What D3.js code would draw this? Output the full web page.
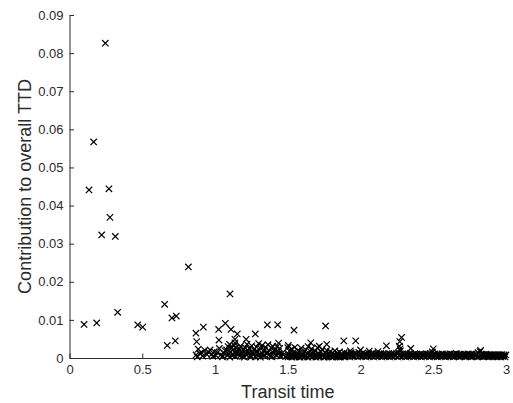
<!DOCTYPE html>
<html>
<head>
<meta charset="utf-8">
<script src="https://cdn.jsdelivr.net/npm/d3@7"></script>
<style>
    body { margin: 0; background: #fff; }
    text { font-family: "Liberation Sans", Arial, sans-serif; }
</style>
</head>
<body>
<script>
// tick values and labels
var xTicks = [0, 0.5, 1, 1.5, 2, 2.5, 3]
var xTickLabels = ["0", "0.5", "1", "1.5", "2", "2.5", "3"]
var yTicks = [0, 0.01, 0.02, 0.03, 0.04, 0.05, 0.06, 0.07, 0.08, 0.09]
var yTickLabels = ["0", "0.01", "0.02", "0.03", "0.04", "0.05", "0.06", "0.07", "0.08", "0.09"]

// [transit time, contribution] - isolated points
var outliers = [
    [0.100, 0.0088], [0.134, 0.0441], [0.166, 0.0567], [0.187, 0.0092], [0.221, 0.0323],
    [0.246, 0.0826], [0.271, 0.0444], [0.278, 0.0369], [0.315, 0.0319], [0.331, 0.0120],
    [0.469, 0.0087], [0.503, 0.0081], [0.654, 0.0141], [0.672, 0.0033], [0.704, 0.0105],
    [0.727, 0.0045], [0.734, 0.0110], [0.817, 0.0239], [0.869, 0.0065], [0.874, 0.0043],
    [0.920, 0.0081], [1.025, 0.0075], [1.027, 0.0047], [1.071, 0.0091], [1.103, 0.0168],
    [1.110, 0.0075], [1.137, 0.0049], [1.137, 0.0040], [1.153, 0.0063], [1.214, 0.0049],
    [1.277, 0.0063], [1.360, 0.0087], [1.431, 0.0087], [1.437, 0.0039], [1.504, 0.0033],
    [1.543, 0.0073], [1.658, 0.0040], [1.717, 0.0031], [1.760, 0.0084], [1.768, 0.0036],
    [1.885, 0.0045], [1.967, 0.0045], [2.178, 0.0032], [2.270, 0.0043], [2.267, 0.0031],
    [2.282, 0.0054], [2.272, 0.0024], [2.345, 0.0025], [2.500, 0.0024], [2.825, 0.0020]
]

// cluster between ~0.87 and ~1.9
var cluster = [
    [0.870, 0.0008], [0.878, 0.0003], [0.885, 0.0023], [0.895, 0.0012], [0.908, 0.0014],
    [0.915, 0.0005], [0.930, 0.0020], [0.945, 0.0009], [0.955, 0.0016], [0.966, 0.0021],
    [0.977, 0.0010], [0.985, 0.0004], [0.995, 0.0017], [1.005, 0.0007], [1.016, 0.0014],
    [1.030, 0.0025], [1.040, 0.0008], [1.050, 0.0003], [1.062, 0.0012], [1.070, 0.0019],
    [1.080, 0.0021], [1.090, 0.0030], [1.095, 0.0010], [1.100, 0.0036], [1.105, 0.0016],
    [1.112, 0.0026], [1.118, 0.0006], [1.125, 0.0022], [1.132, 0.0033], [1.140, 0.0013],
    [1.146, 0.0027], [1.152, 0.0019], [1.160, 0.0009], [1.168, 0.0024], [1.175, 0.0031],
    [1.182, 0.0015], [1.190, 0.0004], [1.196, 0.0021], [1.205, 0.0028], [1.212, 0.0011],
    [1.220, 0.0036], [1.228, 0.0018], [1.236, 0.0025], [1.244, 0.0007], [1.252, 0.0032],
    [1.260, 0.0014], [1.268, 0.0022], [1.276, 0.0003], [1.285, 0.0029], [1.292, 0.0017],
    [1.300, 0.0038], [1.308, 0.0010], [1.316, 0.0024], [1.324, 0.0033], [1.332, 0.0006],
    [1.340, 0.0020], [1.348, 0.0028], [1.356, 0.0012], [1.364, 0.0035], [1.372, 0.0018],
    [1.380, 0.0004], [1.388, 0.0026], [1.396, 0.0031], [1.404, 0.0013], [1.412, 0.0022],
    [1.420, 0.0008], [1.428, 0.0030], [1.436, 0.0017], [1.444, 0.0025], [1.452, 0.0005],
    [1.460, 0.0012], [1.055, 0.0005], [1.085, 0.0007], [1.102, 0.0002], [1.122, 0.0011],
    [1.138, 0.0004], [1.158, 0.0015], [1.172, 0.0006], [1.188, 0.0012], [1.202, 0.0002],
    [1.218, 0.0008], [1.232, 0.0013], [1.248, 0.0003], [1.264, 0.0009], [1.280, 0.0016],
    [1.296, 0.0005], [1.312, 0.0002], [1.328, 0.0011], [1.344, 0.0007], [1.360, 0.0015],
    [1.376, 0.0010], [1.392, 0.0003], [1.408, 0.0019], [1.424, 0.0006], [1.440, 0.0011],
    [1.470, 0.0008], [1.485, 0.0004],
    [1.500, 0.0027], [1.506, 0.0010], [1.512, 0.0018], [1.518, 0.0004], [1.525, 0.0023],
    [1.532, 0.0008], [1.540, 0.0015], [1.548, 0.0028], [1.555, 0.0006], [1.562, 0.0012],
    [1.570, 0.0020], [1.578, 0.0003], [1.585, 0.0016], [1.592, 0.0026], [1.600, 0.0009],
    [1.608, 0.0014], [1.616, 0.0005], [1.624, 0.0021], [1.632, 0.0011], [1.640, 0.0030],
    [1.648, 0.0007], [1.656, 0.0017], [1.664, 0.0024], [1.672, 0.0004], [1.680, 0.0013],
    [1.688, 0.0019], [1.696, 0.0008], [1.704, 0.0027], [1.712, 0.0012], [1.720, 0.0005],
    [1.728, 0.0016], [1.736, 0.0022], [1.744, 0.0009], [1.752, 0.0003], [1.760, 0.0014],
    [1.768, 0.0020], [1.776, 0.0007], [1.784, 0.0011], [1.792, 0.0017], [1.800, 0.0004],
    [1.808, 0.0013], [1.816, 0.0009], [1.824, 0.0019], [1.832, 0.0006], [1.840, 0.0012],
    [1.848, 0.0003], [1.856, 0.0016], [1.864, 0.0008], [1.872, 0.0011], [1.880, 0.0005],
    [1.888, 0.0014], [1.896, 0.0007],
    [1.503, 0.0003], [1.516, 0.0006], [1.529, 0.0002], [1.543, 0.0005], [1.557, 0.0003],
    [1.571, 0.0006], [1.584, 0.0002], [1.597, 0.0004], [1.611, 0.0003], [1.626, 0.0006],
    [1.639, 0.0002], [1.653, 0.0005], [1.667, 0.0003], [1.681, 0.0006], [1.694, 0.0002],
    [1.708, 0.0004], [1.723, 0.0003], [1.737, 0.0006], [1.749, 0.0002], [1.763, 0.0005],
    [1.778, 0.0003], [1.791, 0.0006], [1.805, 0.0002], [1.819, 0.0004], [1.834, 0.0003],
    [1.846, 0.0006], [1.861, 0.0002], [1.875, 0.0005], [1.889, 0.0003]
]

// dense band from ~1.9 to 3, lower and upper rows
var bandLow = [
    [1.902, 0.0004], [1.914, 0.0007], [1.927, 0.0003], [1.941, 0.0006], [1.953, 0.0004],
    [1.968, 0.0008], [1.981, 0.0003], [1.994, 0.0005], [2.008, 0.0004], [2.021, 0.0007],
    [2.036, 0.0003], [2.049, 0.0005], [2.063, 0.0004], [2.077, 0.0006], [2.090, 0.0003],
    [2.104, 0.0005], [2.118, 0.0004], [2.131, 0.0006], [2.146, 0.0003], [2.159, 0.0005],
    [2.173, 0.0004], [2.186, 0.0006], [2.200, 0.0003], [2.214, 0.0005], [2.227, 0.0004],
    [2.241, 0.0006], [2.255, 0.0003], [2.268, 0.0005], [2.283, 0.0004], [2.296, 0.0006],
    [2.310, 0.0003], [2.323, 0.0005], [2.337, 0.0004], [2.351, 0.0006], [2.364, 0.0003],
    [2.378, 0.0005], [2.392, 0.0004], [2.405, 0.0005], [2.419, 0.0003], [2.433, 0.0005],
    [2.446, 0.0004], [2.460, 0.0006], [2.474, 0.0003], [2.487, 0.0005], [2.501, 0.0004],
    [2.515, 0.0005], [2.528, 0.0003], [2.542, 0.0005], [2.556, 0.0004], [2.569, 0.0005],
    [2.583, 0.0003], [2.597, 0.0005], [2.610, 0.0004], [2.624, 0.0005], [2.638, 0.0003],
    [2.651, 0.0004], [2.665, 0.0005], [2.679, 0.0003], [2.692, 0.0004], [2.706, 0.0005],
    [2.720, 0.0003], [2.733, 0.0004], [2.747, 0.0005], [2.761, 0.0003], [2.774, 0.0004],
    [2.788, 0.0005], [2.802, 0.0003], [2.815, 0.0004], [2.829, 0.0005], [2.843, 0.0003],
    [2.856, 0.0004], [2.870, 0.0004], [2.884, 0.0003], [2.897, 0.0004], [2.911, 0.0003],
    [2.925, 0.0004], [2.938, 0.0003], [2.952, 0.0004], [2.966, 0.0003], [2.979, 0.0004],
    [2.993, 0.0003]
]
var bandHigh = [
    [1.908, 0.0012], [1.922, 0.0010], [1.935, 0.0014], [1.948, 0.0009], [1.962, 0.0012],
    [1.975, 0.0011], [1.988, 0.0015], [2.002, 0.0010], [2.015, 0.0013], [2.029, 0.0011],
    [2.042, 0.0009], [2.056, 0.0012], [2.070, 0.0010], [2.083, 0.0013], [2.097, 0.0009],
    [2.111, 0.0011], [2.124, 0.0010], [2.138, 0.0012], [2.152, 0.0009], [2.165, 0.0011],
    [2.179, 0.0010], [2.193, 0.0012], [2.206, 0.0009], [2.220, 0.0011], [2.234, 0.0010],
    [2.248, 0.0012], [2.261, 0.0014], [2.275, 0.0019], [2.289, 0.0011], [2.302, 0.0009],
    [2.316, 0.0011], [2.330, 0.0010], [2.343, 0.0012], [2.357, 0.0009], [2.371, 0.0011],
    [2.384, 0.0010], [2.398, 0.0009], [2.412, 0.0011], [2.425, 0.0010], [2.439, 0.0009],
    [2.453, 0.0011], [2.467, 0.0010], [2.480, 0.0012], [2.494, 0.0016], [2.508, 0.0011],
    [2.521, 0.0009], [2.535, 0.0010], [2.549, 0.0009], [2.562, 0.0011], [2.576, 0.0009],
    [2.590, 0.0010], [2.603, 0.0009], [2.617, 0.0011], [2.631, 0.0009], [2.644, 0.0010],
    [2.658, 0.0012], [2.672, 0.0009], [2.685, 0.0010], [2.699, 0.0009], [2.713, 0.0010],
    [2.726, 0.0009], [2.740, 0.0011], [2.754, 0.0009], [2.767, 0.0010], [2.781, 0.0009],
    [2.795, 0.0010], [2.808, 0.0014], [2.822, 0.0017], [2.836, 0.0010], [2.849, 0.0009],
    [2.863, 0.0010], [2.877, 0.0008], [2.890, 0.0009], [2.904, 0.0008], [2.918, 0.0009],
    [2.931, 0.0008], [2.945, 0.0009], [2.959, 0.0008], [2.972, 0.0009], [2.986, 0.0008],
    [2.999, 0.0008], [1.930, 0.0019], [2.000, 0.0021], [2.060, 0.0018], [2.120, 0.0017]
]

var allPoints = outliers.concat(cluster, bandLow, bandHigh)

// sizes
var width = 513, height = 403
var margin = { top: 15, right: 7, bottom: 45, left: 69.5 }
var w = width - margin.left - margin.right
var h = height - margin.top - margin.bottom
var axisColor = "#2b2b2b"

var svg = d3.select("body").append("svg")
    .attr("width", width)
    .attr("height", height)

var g = svg.append("g")
    .attr("transform", "translate(" + margin.left + "," + margin.top + ")")

var xScale = d3.scaleLinear().domain([0, 3]).range([0, w])
var yScale = d3.scaleLinear().domain([0, 0.09]).range([h, 0])

// axes, ticks pointing inward
var xAxis = d3.axisBottom(xScale)
    .tickValues(xTicks)
    .tickFormat(function (d, i) { return xTickLabels[i] })
    .tickSizeInner(-4.5).tickSizeOuter(0).tickPadding(7)
var yAxis = d3.axisLeft(yScale)
    .tickValues(yTicks)
    .tickFormat(function (d, i) { return yTickLabels[i] })
    .tickSizeInner(-4.5).tickSizeOuter(0).tickPadding(6)

var gx = g.append("g").attr("transform", "translate(0," + h + ")").call(xAxis)
var gy = g.append("g").call(yAxis)

;[gx, gy].forEach(function (a) {
    a.select(".domain").attr("stroke", axisColor).attr("stroke-width", 1)
    a.selectAll(".tick line").attr("stroke", axisColor).attr("stroke-width", 1)
    a.selectAll(".tick text")
        .attr("fill", axisColor)
        .style("font-size", "13px")
        .style("font-family", "'Liberation Sans', Arial, sans-serif")
})

// markers
var s = 3.2
g.selectAll("path.pt")
    .data(allPoints)
    .enter().append("path")
    .attr("class", "pt")
    .attr("transform", function (d) {
        return "translate(" + xScale(d[0]) + "," + yScale(d[1]) + ")"
    })
    .attr("d", "M" + (-s) + "," + (-s) + "L" + s + "," + s + "M" + s + "," + (-s) + "L" + (-s) + "," + s)
    .attr("stroke", "#000")
    .attr("stroke-width", 1.2)
    .attr("fill", "none")

// axis titles
svg.append("text")
    .attr("x", margin.left + w / 2)
    .attr("y", 398)
    .attr("text-anchor", "middle")
    .attr("fill", axisColor)
    .style("font-size", "18px")
    .text("Transit time")

svg.append("text")
    .attr("transform", "translate(31," + (margin.top + h / 2) + ") rotate(-90)")
    .attr("text-anchor", "middle")
    .attr("fill", axisColor)
    .style("font-size", "18px")
    .text("Contribution to overall TTD")
</script>
</body>
</html>
